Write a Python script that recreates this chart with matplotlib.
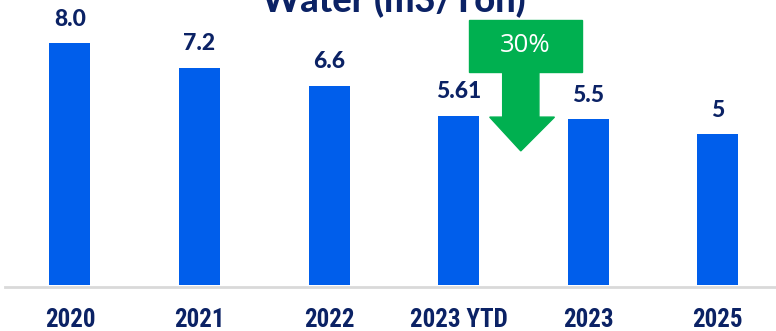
import matplotlib
matplotlib.use("Agg")
import matplotlib.pyplot as plt
from matplotlib.patches import Rectangle, Polygon
from matplotlib import font_manager

categories = ["2020", "2021", "2022", "2023 YTD", "2023", "2025"]
values = [8.0, 7.2, 6.6, 5.61, 5.5, 5.0]
value_labels = ["8.0", "7.2", "6.6", "5.61", "5.5", "5"]
title = "Water (m3/Ton)"
reduction_label = "30%"

BAR = "#005EEB"
NAVY = "#0B2265"
GREEN = "#00B050"

# pick a narrow face for the category labels when one is available
fonts = font_manager.fontManager.ttflist
names = {f.name for f in fonts}
tick_kw = dict(family="Liberation Sans", fontsize=16)
for narrow in ["Liberation Sans Narrow", "Arial Narrow", "Roboto Condensed",
               "Open Sans Condensed"]:
    if narrow in names:
        tick_kw = dict(family=narrow, fontsize=18)
        break
else:
    if any(f.name == "DejaVu Sans" and f.stretch == "condensed" for f in fonts):
        tick_kw = dict(family="DejaVu Sans", fontstretch="condensed", fontsize=16)

W, H = 776, 331
fig = plt.figure(figsize=(W / 100, H / 100), dpi=100)
ax = fig.add_axes([0, 44 / H, 1, 1 - 44 / H])

x = list(range(len(categories)))
ax.bar(x, values, width=0.317, color=BAR, zorder=2)
ax.set_xlim(-0.54, 5.45)
ax.set_ylim(-0.07, 9.44)

for xi, v, lab in zip(x, values, value_labels):
    ax.annotate(lab, (xi, v), xytext=(0, 12.5), textcoords="offset points",
                ha="center", va="baseline", fontsize=16.5, fontweight="black",
                family="Lato", color=NAVY)

ax.set_xticks(x)
ax.set_xticklabels(categories, fontweight="bold", color=NAVY, **tick_kw)
ax.tick_params(axis="x", length=0, pad=15)
ax.set_yticks([])
for s in ["top", "right", "left"]:
    ax.spines[s].set_visible(False)
ax.spines["bottom"].set_color("#D9D9D9")
ax.spines["bottom"].set_linewidth(2)
ax.spines["bottom"].set_bounds(-0.50, 5.45)

# reduction call-out: green box with a downward arrow
ax.add_patch(Rectangle((3.08, 7.07), 0.87, 1.71, color=GREEN, zorder=3, clip_on=False))
ax.add_patch(Polygon([(3.34, 7.08), (3.62, 7.08), (3.62, 5.56), (3.74, 5.56),
                      (3.48, 4.44), (3.24, 5.56), (3.34, 5.56)],
                     closed=True, color=GREEN, zorder=3))
ax.text(3.515, 7.92, reduction_label, ha="center", va="center", fontsize=18.5,
        family="Open Sans", color="white", zorder=4)

fig.text(0.507, 1 - 12 / H, title, ha="center", va="baseline", fontsize=26,
         fontweight="black", family="Lato", color=NAVY)

fig.savefig("out.png", dpi=100)
